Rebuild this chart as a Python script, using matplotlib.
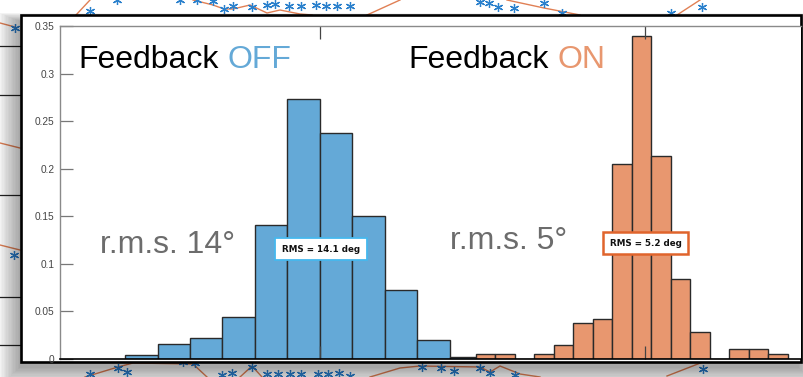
import numpy as np
import matplotlib
matplotlib.use("Agg")
import matplotlib.pyplot as plt
from matplotlib.patches import Rectangle

# ---------------------------------------------------------------- data
# Feedback OFF: 10-degree bins centred on 0
off_edges = np.arange(-60, 51, 10)
off_freq = [0.0039, 0.0155, 0.0217, 0.0438, 0.141, 0.273, 0.238, 0.150,
            0.0725, 0.020, 0.0024]

# Feedback ON: 6-degree bins, histogram shifted to sit around 100
on_edges = np.arange(48, 145, 6)
on_freq = [0.005, 0.005, 0.0, 0.005, 0.0144, 0.038, 0.042, 0.205, 0.340,
           0.213, 0.084, 0.028, 0.0, 0.0102, 0.0102, 0.005]

y_ticks = [0, 0.05, 0.1, 0.15, 0.2, 0.25, 0.3, 0.35]
y_tick_labels = ["0", "0.05", "0.1", "0.15", "0.2", "0.25", "0.3", "0.35"]
x_ticks = [0, 100]

rms_off = 14.1
rms_on = 5.2
rms_off_round = 14
rms_on_round = 5

# trace of the figure lying behind the panel (figure pixel coordinates)
bg_star_x = [15, 14, 90, 117, 180, 197, 213, 224, 233, 252, 267, 275, 289, 301,
             316, 326, 337, 350, 480, 489, 498, 514, 544, 562, 671, 702,
             90, 118, 127, 183, 195, 222, 232, 252, 267, 278, 290, 301, 318,
             328, 339, 350, 422, 441, 454, 480, 490, 515, 703]
bg_star_y = [28, 255, 11, 0, 0, 0, 1, 9, 6, 7, 5, 4, 6, 6,
             5, 6, 6, 6, 2, 3, 7, 8, 3, 13, 13, 7,
             374, 368, 372, 362, 363, 375, 373, 367, 374, 374, 374, 374, 374,
             374, 373, 376, 367, 368, 371, 368, 373, 375, 369]
bg_line_x = [0, 15, np.nan, 76, 90, np.nan,
             193, 213, 224, 233, 250, 267, 280, 300, 312, np.nan,
             367, 400, np.nan, 507, 544, 580, np.nan, 677, 700, np.nan,
             85, 118, 133, 193, 207, np.nan, 240, 252, 262, np.nan,
             370, 400, 420, 480, 490, 500, 520, 540, np.nan, 667, 703, np.nan,
             0, 20, np.nan, 0, 20]
bg_line_y = [23, 27, np.nan, 15, 0, np.nan,
             0, 5, 9, 9, 5, 13, 10, 14, 15, np.nan,
             15, 0, np.nan, 0, 8, 15, np.nan, 15, 0, np.nan,
             377, 367, 363, 364, 377, np.nan, 377, 366, 377, np.nan,
             377, 368, 366, 367, 372, 366, 374, 377, np.nan, 376, 362, np.nan,
             143, 148, np.nan, 245, 250]
bg_grid_y = [46, 95, 195, 297, 345]

# ---------------------------------------------------------------- style
BLUE = "#64a9d7"
ORANGE = "#e8976f"
EDGE = "#2a2a2a"
GREY_TXT = "#6c6c6c"
plt.rcParams["font.family"] = ["Liberation Sans", "DejaVu Sans"]

W, H = 804, 377
fig = plt.figure(figsize=(W / 100, H / 100), dpi=100)
fig.patch.set_facecolor("white")

# backdrop layer in pixel units
bg = fig.add_axes([0, 0, 1, 1], zorder=0)
bg.set_xlim(0, W)
bg.set_ylim(H, 0)
bg.axis("off")

bg.plot(bg_line_x, bg_line_y, color="#d9602a", lw=1.0, alpha=0.8)
bg.plot(bg_star_x, bg_star_y, ls="none", marker=(6, 2, 0), ms=6.5, mew=0.9,
        color="#2a80cc")
for gy in bg_grid_y:
    bg.plot([0, 21], [gy, gy], color="#222222", lw=0.9)

# soft window shadow under the panel
px0, py0, px1, py1 = 21, 15, 801, 362
for i in range(16):
    grow = 1.4 * i
    bg.add_patch(Rectangle((px0 - grow - 2, py0 + 6 - grow * 0.4),
                           (px1 - px0) + 2 * grow, (py1 - py0) + grow * 1.3,
                           facecolor="black", edgecolor="none",
                           alpha=0.022, zorder=3))
bg.add_patch(Rectangle((px0, py0), px1 - px0, py1 - py0, facecolor="white",
                       edgecolor="black", lw=1.9, zorder=4))

# ---------------------------------------------------------------- histogram axes
ax_l, ax_r, ax_t, ax_b = 60, 801, 26, 359
ax = fig.add_axes([ax_l / W, 1 - ax_b / H, (ax_r - ax_l) / W, (ax_b - ax_t) / H],
                  zorder=2)
ax.set_facecolor("white")

ax.bar(off_edges[:-1], off_freq, width=np.diff(off_edges), align="edge",
       color=BLUE, edgecolor=EDGE, linewidth=1.0)
ax.bar(on_edges[:-1], on_freq, width=np.diff(on_edges), align="edge",
       color=ORANGE, edgecolor=EDGE, linewidth=1.0)

ax.set_xlim(-80, 148)
ax.set_ylim(0, 0.35)
ax.set_yticks(y_ticks)
ax.set_yticklabels(y_tick_labels)
ax.set_xticks(x_ticks)
ax.set_xticklabels([])
ax.tick_params(axis="y", direction="in", length=9.4, width=0.9, color="#777777",
               labelsize=7.3, labelcolor="#444444", pad=4, right=False)
ax.tick_params(axis="x", direction="in", length=9.4, width=0.9, color="#444444",
               top=True, bottom=True)
for side in ("left", "top"):
    ax.spines[side].set_color("#8a8a8a")
    ax.spines[side].set_linewidth(1.0)
ax.spines["bottom"].set_color("black")
ax.spines["bottom"].set_linewidth(1.2)
ax.spines["right"].set_visible(False)

# ---------------------------------------------------------------- titles
t_off = ax.text(78, 68, "Feedback", transform=bg.transData, fontsize=23,
                color="black", ha="left", va="baseline")
ax.annotate("OFF", xy=(1, 0), xycoords=t_off, xytext=(6.4, 0),
            textcoords="offset points", fontsize=23, color=BLUE,
            ha="left", va="bottom")
t_on = ax.text(408, 68, "Feedback", transform=bg.transData, fontsize=23,
               color="black", ha="left", va="baseline")
ax.annotate("ON", xy=(1, 0), xycoords=t_on, xytext=(6.4, 0),
            textcoords="offset points", fontsize=23, color=ORANGE,
            ha="left", va="bottom")

ax.text(100, 253, f"r.m.s. {rms_off_round}°", transform=bg.transData,
        fontsize=23, color=GREY_TXT, ha="left", va="baseline")
ax.text(450, 249, f"r.m.s. {rms_on_round}°", transform=bg.transData,
        fontsize=23, color=GREY_TXT, ha="left", va="baseline")

# RMS value boxes
ax.text(321, 249, f"RMS = {rms_off} deg", transform=bg.transData,
        fontsize=6.3, fontweight="bold", family=["DejaVu Sans"], color="#111111",
        ha="center", va="center",
        bbox=dict(boxstyle="square,pad=0.75", facecolor="white",
                  edgecolor="#45b8ee", linewidth=1.3))
ax.text(646, 243, f"RMS = {rms_on} deg", transform=bg.transData,
        fontsize=6.3, fontweight="bold", family=["DejaVu Sans"], color="#111111",
        ha="center", va="center",
        bbox=dict(boxstyle="square,pad=0.75", facecolor="white",
                  edgecolor="#e0642c", linewidth=1.8))

fig.savefig("out.png", dpi=100)
